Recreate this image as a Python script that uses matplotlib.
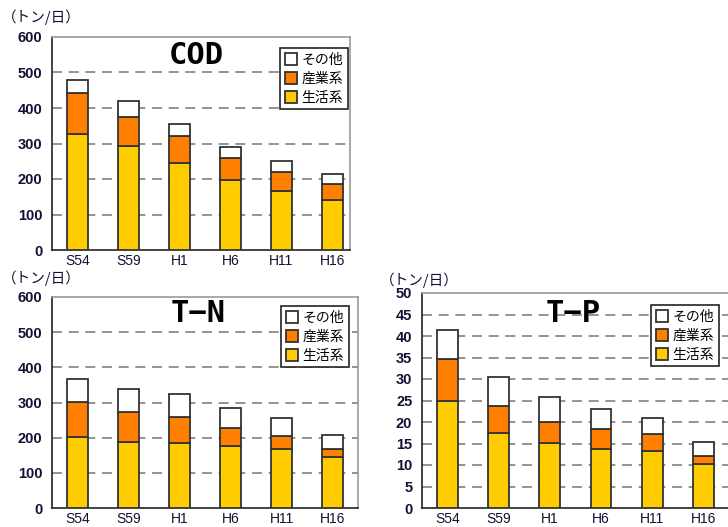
import matplotlib
matplotlib.use("Agg")
import matplotlib.pyplot as plt
import numpy as np

plt.rcParams['font.family'] = ['Liberation Sans', 'Noto Sans CJK JP', 'DejaVu Sans']

# 年度
nendo = ["S54", "S59", "H1", "H6", "H11", "H16"]
series = ["生活系", "産業系", "その他"]

# COD (トン/日)
cod_seikatsu = [326, 293, 246, 197, 167, 142]
cod_sangyo = [116, 81, 75, 61, 53, 45]
cod_sonota = [38, 45, 35, 31, 30, 28]

# T-N (トン/日)
tn_seikatsu = [202, 189, 186, 175, 168, 145]
tn_sangyo = [100, 83, 72, 52, 37, 23]
tn_sonota = [66, 66, 65, 56, 52, 41]

# T-P (トン/日)
tp_seikatsu = [25.0, 17.5, 15.2, 13.8, 13.3, 10.2]
tp_sangyo = [9.6, 6.3, 4.8, 4.6, 3.8, 1.9]
tp_sonota = [6.7, 6.6, 5.9, 4.7, 3.9, 3.3]

colors = ["#FFCC00", "#FF8000", "#FFFFFF"]
W, H = 728, 527


def px_rect(x0, x1, y0, y1):
    return [x0 / W, 1 - y1 / H, (x1 - x0) / W, (y1 - y0) / H]


def draw(ax, title, data, ymax, step, xright, title_xy, leg_xy):
    x = np.arange(len(nendo))
    bottom = np.zeros(len(nendo))
    handles = []
    for vals, c, name in zip(data, colors, series):
        b = ax.bar(x, vals, 0.41, bottom=bottom, color=c, edgecolor="#333333",
                   linewidth=1.3, label=name, zorder=3)
        handles.append(b)
        bottom = bottom + np.array(vals)
    ax.set_xlim(-0.5, xright)
    ax.set_ylim(0, ymax)
    ax.set_yticks(np.arange(0, ymax + step / 2, step))
    ax.set_xticks(x)
    ax.set_xticklabels(nendo)
    ax.tick_params(length=0, labelsize=10.5, colors="#111133")
    ax.tick_params(axis="y", pad=7)
    ax.tick_params(axis="x", pad=3)
    for lab in ax.get_yticklabels():
        lab.set_fontweight("bold")
    for lab in ax.get_xticklabels():
        lab.set_fontsize(10)
    for t in ax.get_yticks()[1:-1]:
        ax.axhline(t, color="#808080", lw=1.2, ls=(0, (6, 4)), zorder=1)
    ax.spines["left"].set_color("#222222")
    ax.spines["bottom"].set_color("#222222")
    ax.spines["top"].set_color("#999999")
    ax.spines["right"].set_color("#999999")
    for s in ax.spines.values():
        s.set_linewidth(1.2)
    fig.text(title_xy[0] / W, 1 - title_xy[1] / H, title, ha="center", va="center",
             fontsize=22, fontweight="bold", family="DejaVu Sans Mono")
    leg = ax.legend(handles[::-1], series[::-1], loc="upper right",
                    bbox_to_anchor=(leg_xy[0] / W, 1 - leg_xy[1] / H),
                    bbox_transform=fig.transFigure, fancybox=False, framealpha=1,
                    edgecolor="#222222", handlelength=0.9, handleheight=0.9,
                    handletextpad=0.3, borderpad=0.35, labelspacing=0.35,
                    borderaxespad=0, prop={"family": ["Noto Sans CJK JP"], "size": 10})
    leg.get_frame().set_linewidth(1.2)
    leg.set_zorder(5)


fig = plt.figure(figsize=(W / 100, H / 100), dpi=100)

ax1 = fig.add_axes(px_rect(52, 350, 37, 250))
draw(ax1, "COD", [cod_seikatsu, cod_sangyo, cod_sonota], 600, 100, 5.35,
     (196, 55), (348, 48))

ax2 = fig.add_axes(px_rect(52, 358, 297, 508))
draw(ax2, "T\u2212N", [tn_seikatsu, tn_sangyo, tn_sonota], 600, 100, 5.49,
     (198, 314), (349, 306))

ax3 = fig.add_axes(px_rect(422, 736, 293, 508))
draw(ax3, "T\u2212P", [tp_seikatsu, tp_sangyo, tp_sonota], 50, 5, 5.64,
     (573, 314), (719, 305))

unit = "（トン/日）"
for (ux, uy) in [(2, 17), (2, 278), (380, 280)]:
    fig.text(ux / W, 1 - uy / H, unit, ha="left", va="center", fontsize=10.5,
             family=["Noto Sans CJK JP", "DejaVu Sans"], color="#111133")

fig.savefig("out.png", dpi=100)
